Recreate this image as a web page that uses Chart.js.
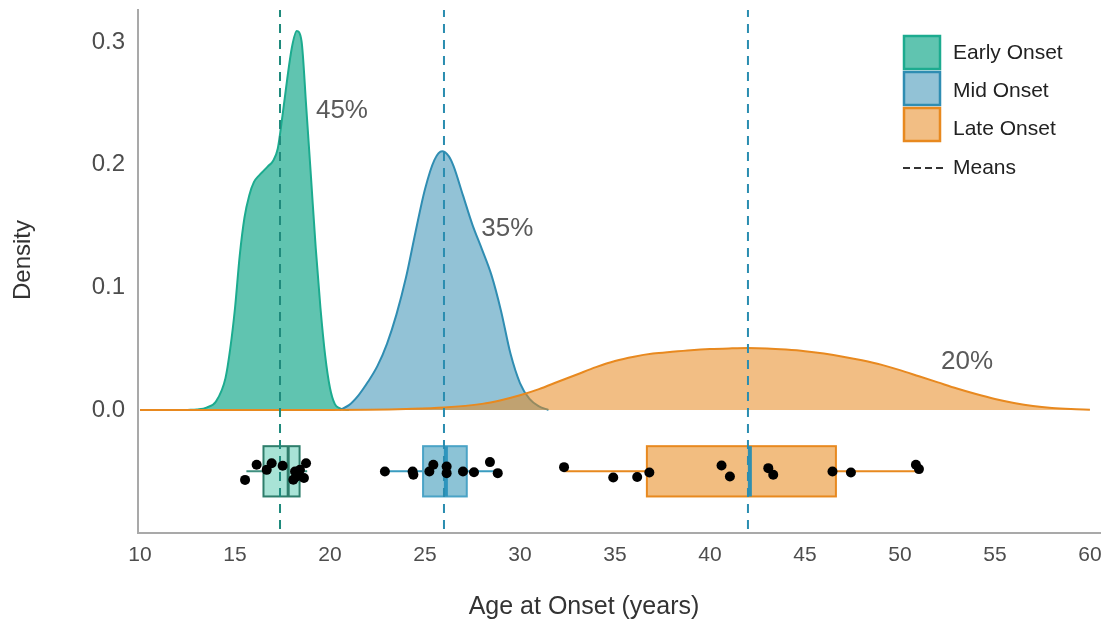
<!DOCTYPE html>
<html>
<head>
<meta charset="utf-8">
<script src="https://cdn.jsdelivr.net/npm/chart.js@4.4.1/dist/chart.umd.min.js"></script>
<style>
  html, body { margin: 0; padding: 0; background: #ffffff; }
  #wrap { width: 1113px; height: 624px; }
</style>
</head>
<body>
<div id="wrap"><canvas id="chart" width="1113" height="624"></canvas></div>
<script>
// ---- data ----
const groupNames = ['Early Onset', 'Mid Onset', 'Late Onset'];
const groupShares = ['45%', '35%', '20%'];
const meanLabel = 'Means';
const xTitle = 'Age at Onset (years)';
const yTitle = 'Density';

// kernel density curves (age, density)
const earlyAges    = [12.5, 13.0, 13.5, 14.0, 14.5, 14.75, 15.0, 15.25, 15.5, 15.75, 16.0, 16.25, 16.5, 16.75, 17.0, 17.25, 17.5, 17.75, 18.0, 18.25, 18.5, 18.75, 19.0, 19.25, 19.5, 19.75, 20.0, 20.25, 20.5, 20.75, 21.0];
const earlyDensity = [0, 0.0005, 0.002, 0.007, 0.026, 0.05, 0.083, 0.126, 0.157, 0.175, 0.186, 0.191, 0.195, 0.199, 0.203, 0.213, 0.24, 0.27, 0.296, 0.309, 0.301, 0.247, 0.19, 0.132, 0.083, 0.044, 0.018, 0.005, 0.0015, 0.0003, 0];

const midAges    = [20.5, 21.0, 21.5, 22.0, 22.5, 23.0, 23.5, 24.0, 24.5, 25.0, 25.5, 25.9, 26.25, 26.5, 27.0, 27.5, 28.0, 28.5, 29.0, 29.5, 30.0, 30.5, 31.0, 31.5];
const midDensity = [0, 0.004, 0.012, 0.023, 0.036, 0.054, 0.078, 0.108, 0.145, 0.18, 0.204, 0.211, 0.207, 0.199, 0.175, 0.151, 0.131, 0.11, 0.081, 0.046, 0.022, 0.009, 0.003, 0];

const lateAges    = [10, 20, 22, 24, 26, 28, 29, 30, 31, 32, 33, 34, 35, 36, 37, 38, 39, 40, 41, 42, 43, 44, 45, 46, 47, 48, 49, 50, 51, 52, 53, 54, 55, 56, 57, 58, 59, 60];
const lateDensity = [0, 0, 0.0002, 0.0008, 0.002, 0.005, 0.008, 0.012, 0.017, 0.023, 0.029, 0.035, 0.04, 0.0435, 0.046, 0.0475, 0.0488, 0.0497, 0.0502, 0.0505, 0.0502, 0.0493, 0.048, 0.046, 0.0435, 0.0405, 0.037, 0.0325, 0.0275, 0.0225, 0.0175, 0.013, 0.009, 0.0058, 0.0033, 0.0017, 0.0008, 0.0003];

// group means
const groupMeans = [17.37, 26.0, 42.0];

// box plot summaries
const boxWhiskerLow  = [15.6, 22.85, 32.35];
const boxQ1          = [16.5, 24.9, 36.68];
const boxMedian      = [17.8, 26.1, 42.1];
const boxQ3          = [18.4, 27.2, 46.63];
const boxWhiskerHigh = [18.8, 28.85, 50.9];

// individual observations (age, vertical jitter)
const earlyPointAge    = [15.53, 16.14, 16.67, 16.93, 17.51, 18.16, 18.25, 18.42, 18.74, 18.63, 18.07];
const earlyPointJitter = [-0.057, -0.0447, -0.0488, -0.0434, -0.0455, -0.0501, -0.0542, -0.0488, -0.0434, -0.0555, -0.0569];
const midPointAge      = [22.89, 24.35, 24.39, 25.23, 25.44, 26.14, 26.14, 27.0, 27.58, 28.42, 28.83];
const midPointJitter   = [-0.0501, -0.0501, -0.0528, -0.0501, -0.0447, -0.0461, -0.0515, -0.0501, -0.0507, -0.0425, -0.0515];
const latePointAge     = [32.32, 34.91, 36.17, 36.81, 40.61, 41.05, 43.07, 43.33, 46.45, 47.42, 50.84, 51.0];
const latePointJitter  = [-0.0466, -0.055, -0.0547, -0.0509, -0.0452, -0.0542, -0.0474, -0.0528, -0.0501, -0.0509, -0.0447, -0.0482];

// axis ticks
const xTickValues = [10, 15, 20, 25, 30, 35, 40, 45, 50, 55, 60];
const yTickValues = [0, 0.1, 0.2, 0.3];

// ---- styling ----
const FONT = '"Liberation Sans", Arial, Helvetica, sans-serif';
const lineColors = ['#1cab8f', '#2f8db2', '#e8891f'];
const fillColors = ['rgba(28,171,143,0.70)', 'rgba(46,139,176,0.52)', 'rgba(232,137,31,0.55)'];
const meanColors = ['#1f8a7c', '#2a8db0', '#2a8db0'];
const boxFill    = ['#a8e3d6', '#8cc3d6', '#f2bd80'];
const boxStroke  = ['#2e7d6b', '#4aa3c6', '#e8891f'];
const medianColor = ['#2e7d6b', '#2e95bd', '#2f8fb0'];
const whiskerColor = ['#3f8f7f', '#3a9cc0', '#e8891f'];
const BOX_CENTER = -0.05;
const BOX_HALF = 0.0205;
// where each share label sits (age, density)
const SHARE_POS = [[19.26, 0.244], [27.96, 0.148], [52.16, 0.039]];

const zip = (xs, ys) => xs.map((v, i) => ({ x: v, y: ys[i] }));

const densitySets = [
  [earlyAges, earlyDensity],
  [midAges, midDensity],
  [lateAges, lateDensity]
].map(([xs, ys], i) => ({
  label: groupNames[i],
  data: zip(xs, ys),
  borderColor: lineColors[i],
  backgroundColor: fillColors[i],
  borderWidth: 2,
  fill: 'origin',
  pointRadius: 0,
  cubicInterpolationMode: 'monotone',
  order: 4 - i
}));

const meanSets = groupMeans.map((m, i) => ({
  label: 'mean-' + i,
  data: [{ x: m, y: -0.11 }, { x: m, y: 0.33 }],
  borderColor: meanColors[i],
  borderWidth: 2,
  borderDash: [9, 7],
  pointRadius: 0,
  fill: false,
  order: 1
}));

const pointSets = [
  [earlyPointAge, earlyPointJitter],
  [midPointAge, midPointJitter],
  [latePointAge, latePointJitter]
].map(([xs, ys], i) => ({
  label: 'obs-' + i,
  data: zip(xs, ys),
  showLine: false,
  pointRadius: 5,
  pointBackgroundColor: '#000000',
  pointBorderColor: '#000000',
  pointBorderWidth: 0,
  order: 0
}));

// box plots under the curves; share labels, axis titles and legend on top
const overlayPlugin = {
  id: 'overlay',
  beforeDatasetsDraw(chart) {
    const { ctx, scales: { x, y } } = chart;
    ctx.save();
    const yc = y.getPixelForValue(BOX_CENTER);
    const yt = y.getPixelForValue(BOX_CENTER + BOX_HALF);
    const yb = y.getPixelForValue(BOX_CENTER - BOX_HALF);
    groupNames.forEach((g, i) => {
      const xl = x.getPixelForValue(boxQ1[i]);
      const xr = x.getPixelForValue(boxQ3[i]);
      ctx.strokeStyle = whiskerColor[i];
      ctx.lineWidth = 2;
      ctx.beginPath();
      ctx.moveTo(x.getPixelForValue(boxWhiskerLow[i]), yc);
      ctx.lineTo(xl, yc);
      ctx.moveTo(xr, yc);
      ctx.lineTo(x.getPixelForValue(boxWhiskerHigh[i]), yc);
      ctx.stroke();
      ctx.fillStyle = boxFill[i];
      ctx.fillRect(xl, yt, xr - xl, yb - yt);
      ctx.strokeStyle = boxStroke[i];
      ctx.lineWidth = 2;
      ctx.strokeRect(xl, yt, xr - xl, yb - yt);
      const xm = x.getPixelForValue(boxMedian[i]);
      ctx.strokeStyle = medianColor[i];
      ctx.lineWidth = i === 0 ? 3 : 4;
      ctx.beginPath();
      ctx.moveTo(xm, yt);
      ctx.lineTo(xm, yb);
      ctx.stroke();
    });
    ctx.restore();
  },
  afterDraw(chart) {
    const { ctx, scales: { x, y } } = chart;
    ctx.save();
    // share labels beside each curve
    ctx.font = '26px ' + FONT;
    ctx.fillStyle = '#5a5a5a';
    ctx.textAlign = 'left';
    ctx.textBaseline = 'middle';
    groupShares.forEach((s, i) => {
      ctx.fillText(s, x.getPixelForValue(SHARE_POS[i][0]), y.getPixelForValue(SHARE_POS[i][1]));
    });

    // axis titles
    ctx.fillStyle = '#333333';
    ctx.textAlign = 'center';
    ctx.font = '25px ' + FONT;
    ctx.fillText(xTitle, 584, 607);
    ctx.save();
    ctx.translate(23, 260);
    ctx.rotate(-Math.PI / 2);
    ctx.font = '24px ' + FONT;
    ctx.fillText(yTitle, 0, 0);
    ctx.restore();

    // legend
    ctx.textAlign = 'left';
    const lx = 903, ly = 35, sw = 38, sh = 36;
    const textY = [53, 91, 129, 168];
    ctx.font = '21px ' + FONT;
    groupNames.forEach((g, i) => {
      const top = ly + i * sh;
      ctx.fillStyle = fillColors[i];
      ctx.fillRect(lx, top, sw, sh - 1);
      ctx.strokeStyle = lineColors[i];
      ctx.lineWidth = 2.5;
      ctx.strokeRect(lx + 1, top + 1, sw - 2, sh - 3);
      ctx.fillStyle = '#222222';
      ctx.fillText(g, lx + 50, textY[i]);
    });
    const my = textY[3];
    ctx.strokeStyle = '#333333';
    ctx.lineWidth = 2;
    ctx.setLineDash([7, 4]);
    ctx.beginPath();
    ctx.moveTo(lx, my);
    ctx.lineTo(lx + sw + 2, my);
    ctx.stroke();
    ctx.setLineDash([]);
    ctx.fillStyle = '#222222';
    ctx.fillText(meanLabel, lx + 50, my);
    ctx.restore();
  }
};

new Chart(document.getElementById('chart'), {
  type: 'line',
  data: { datasets: [...densitySets, ...meanSets, ...pointSets] },
  options: {
    responsive: false,
    animation: false,
    devicePixelRatio: 1,
    layout: { padding: { top: 10, right: 13, left: 0, bottom: 0 } },
    plugins: { legend: { display: false }, tooltip: { enabled: false } },
    scales: {
      x: {
        type: 'linear',
        min: 9.895,
        max: 60.53,
        afterBuildTicks: s => { s.ticks = xTickValues.map(v => ({ value: v })); },
        afterFit: s => { s.height = 91; s.paddingLeft = 0; s.paddingRight = 0; },
        grid: { display: false, drawTicks: false },
        border: { display: true, color: '#a9a9a9', width: 2 },
        ticks: { font: { family: FONT, size: 21 }, color: '#4d4d4d', padding: 10, maxRotation: 0 }
      },
      y: {
        type: 'linear',
        min: -0.1003,
        max: 0.3262,
        afterBuildTicks: s => { s.ticks = yTickValues.map(v => ({ value: v })); },
        afterFit: s => { s.width = 138; s.paddingTop = 0; s.paddingBottom = 0; },
        grid: { display: false, drawTicks: false },
        border: { display: true, color: '#a9a9a9', width: 2 },
        ticks: { font: { family: FONT, size: 24 }, color: '#4d4d4d', padding: 13, callback: v => Number(v).toFixed(1) }
      }
    }
  },
  plugins: [overlayPlugin]
});
</script>
</body>
</html>
